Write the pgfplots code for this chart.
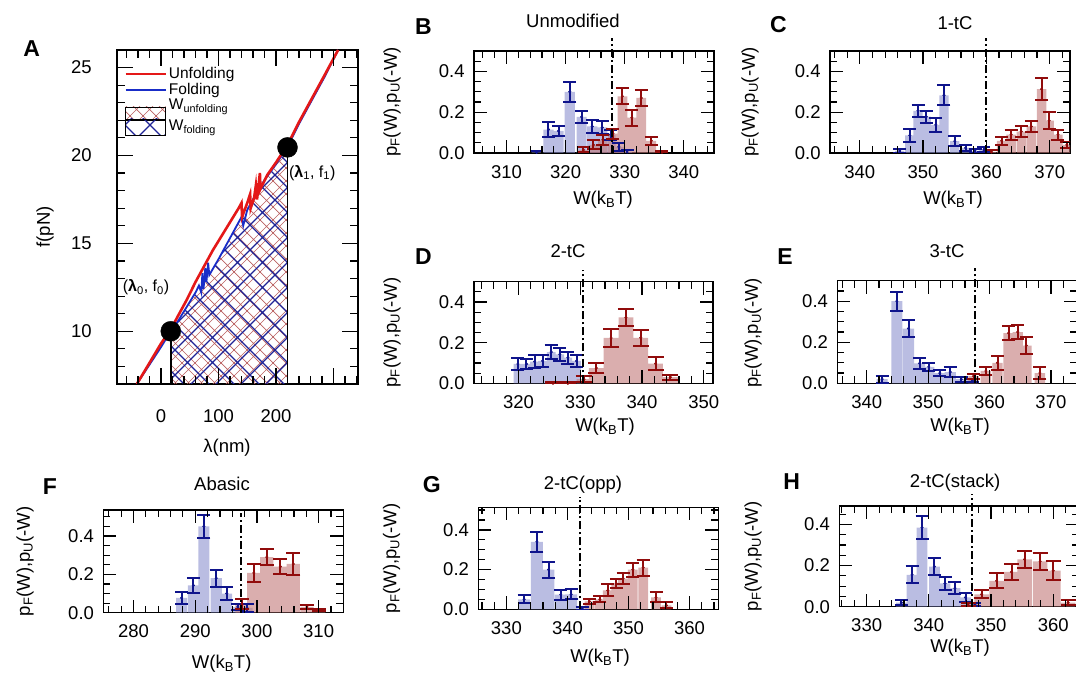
\documentclass[border=0pt]{standalone}
\usepackage{fontspec}
\setmainfont{Liberation Sans}
\usepackage{pgfplots}
\usepackage{pgfplotstable}
\pgfplotsset{compat=1.18}
\usetikzlibrary{patterns}

% diagonal cross-hatches for the work areas
\pgfdeclarepatternformonly{finecross}{\pgfqpoint{-1pt}{-1pt}}{\pgfqpoint{14pt}{14pt}}{\pgfqpoint{13pt}{13pt}}{%
  \pgfsetlinewidth{0.7pt}%
  \pgfpathmoveto{\pgfqpoint{-0.5pt}{-0.5pt}}\pgfpathlineto{\pgfqpoint{13.5pt}{13.5pt}}%
  \pgfpathmoveto{\pgfqpoint{-0.5pt}{13.5pt}}\pgfpathlineto{\pgfqpoint{13.5pt}{-0.5pt}}%
  \pgfusepath{stroke}}
\pgfdeclarepatternformonly{coarsecross}{\pgfqpoint{-1pt}{-1pt}}{\pgfqpoint{26pt}{26pt}}{\pgfqpoint{25pt}{25pt}}{%
  \pgfsetlinewidth{1.1pt}%
  \pgfpathmoveto{\pgfqpoint{-0.5pt}{-0.5pt}}\pgfpathlineto{\pgfqpoint{25.5pt}{25.5pt}}%
  \pgfpathmoveto{\pgfqpoint{-0.5pt}{25.5pt}}\pgfpathlineto{\pgfqpoint{25.5pt}{-0.5pt}}%
  \pgfusepath{stroke}}

\definecolor{unfred}{RGB}{228,24,24}
\definecolor{foldblue}{RGB}{25,45,200}
\definecolor{hatchred}{RGB}{185,95,95}
\definecolor{hatchblue}{RGB}{30,35,150}
\definecolor{errblue}{RGB}{15,20,140}
\definecolor{errred}{RGB}{145,12,12}
\definecolor{fillblue}{RGB}{140,145,207}
\definecolor{fillred}{RGB}{193,120,120}

\pgfplotsset{
  hist/.style={
    anchor=south west, scale only axis, width=240pt, height=102pt,
    ymin=0, ymax=0.5,
    axis line style={line width=1.4pt},
    tick style={black, line width=1.2pt},
    major tick length=13pt, minor tick length=7pt,
    xtick distance=10, minor x tick num=4,
    ytick={0,0.2,0.4}, minor y tick num=3,
    /pgf/number format/assume math mode=true,
    yticklabel style={xshift=-3pt, /pgf/number format/fixed,
      /pgf/number format/fixed zerofill, /pgf/number format/precision=1},
    xticklabel style={yshift=-6pt},
    clip mode=individual,
  },
  fbar/.style={ybar, bar shift=0pt, bar width=#1, draw=none, fill=fillblue, fill opacity=0.6},
  rbar/.style={ybar, bar shift=0pt, bar width=#1, draw=none, fill=fillred, fill opacity=0.6},
  ferr/.style={errblue, only marks, mark=*, mark size=1.3pt,
    error bars/.cd, y dir=both, y explicit,
    error bar style={line width=2pt, errblue},
    error mark options={rotate=90, line width=2pt, mark size=#1, errblue}},
  rerr/.style={errred, only marks, mark=*, mark size=1.3pt,
    error bars/.cd, y dir=both, y explicit,
    error bar style={line width=2pt, errred},
    error mark options={rotate=90, line width=2pt, mark size=#1, errred}},
  ferr/.default=6.5pt, rerr/.default=6.5pt,
}
\tikzset{wline/.style={black, line width=2pt, dash pattern=on 8pt off 3pt on 2pt off 3pt},
  tk/.style={black, line width=1.2pt}}
\newcommand{\plab}{p\textsubscript{F}(W),p\textsubscript{U}(-W)}
\newcommand{\wlab}{W(k\textsubscript{B}T)}

% inward ticks on all four sides of a histogram frame:
% #1 xmin, #2 xmax, #3 ymax, #4 minor x, #5 major x, #6 minor y
\newcommand{\hticks}[6]{%
  \pgfplotsinvokeforeach{#4}{\draw[tk] (axis cs:##1,0) -- ([yshift=7pt]axis cs:##1,0);
    \draw[tk] (axis cs:##1,#3) -- ([yshift=-7pt]axis cs:##1,#3);}%
  \pgfplotsinvokeforeach{#5}{\draw[tk] (axis cs:##1,0) -- ([yshift=13pt]axis cs:##1,0);
    \draw[tk] (axis cs:##1,#3) -- ([yshift=-13pt]axis cs:##1,#3);}%
  \pgfplotsinvokeforeach{#6}{\draw[tk] (axis cs:#1,##1) -- ([xshift=7pt]axis cs:#1,##1);
    \draw[tk] (axis cs:#2,##1) -- ([xshift=-7pt]axis cs:#2,##1);}%
  \pgfplotsinvokeforeach{0.2,0.4}{\draw[tk] (axis cs:#1,##1) -- ([xshift=13pt]axis cs:#1,##1);
    \draw[tk] (axis cs:#2,##1) -- ([xshift=-13pt]axis cs:#2,##1);}%
}

% work histograms: bin centre, probability, error
\pgfplotstableread{
x y e
315.1 0.003 0.006
317.1 0.115 0.035
318.8 0.108 0.025
320.7 0.300 0.050
322.7 0.177 0.030
324.5 0.130 0.032
326.2 0.125 0.030
327.6 0.090 0.025
329.0 0.030 0.020
330.4 0.005 0.008
}\Bf
\pgfplotstableread{
x y e
323.0 0.015 0.012
324.7 0.040 0.022
326.3 0.065 0.025
328.0 0.095 0.025
329.6 0.278 0.040
331.2 0.173 0.040
332.8 0.270 0.040
334.5 0.060 0.020
336.3 0.003 0.005
}\Bu
\pgfplotstableread{
x y e
346.3 0.010 0.010
347.9 0.086 0.030
349.2 0.207 0.030
350.5 0.178 0.030
352.0 0.138 0.035
353.3 0.283 0.050
355.0 0.058 0.026
356.7 0.025 0.015
358.2 0.010 0.010
359.6 0.015 0.012
}\Cf
\pgfplotstableread{
x y e
360.8 0.005 0.008
362.4 0.060 0.020
363.9 0.090 0.025
365.5 0.105 0.025
367.1 0.130 0.025
368.7 0.313 0.053
369.9 0.159 0.040
371.3 0.090 0.025
372.7 0.040 0.016
}\Cu
\pgfplotstableread{
x y e
319.9 0.095 0.030
321.3 0.095 0.025
322.6 0.107 0.030
323.9 0.110 0.030
325.3 0.154 0.035
326.7 0.142 0.030
328.0 0.126 0.030
329.4 0.110 0.030
}\Df
\pgfplotstableread{
x y e
325.6 0.000 0.004
328.0 0.000 0.004
330.6 0.020 0.015
332.6 0.075 0.025
335.0 0.223 0.045
337.4 0.324 0.040
339.8 0.224 0.040
342.2 0.097 0.030
344.6 0.030 0.013
}\Du
\pgfplotstableread{
x y e
342.5 0.020 0.018
344.9 0.400 0.047
346.8 0.267 0.040
348.6 0.097 0.025
350.1 0.080 0.020
351.9 0.050 0.015
353.6 0.055 0.024
355.4 0.020 0.012
357.2 0.015 0.008
}\Ef
\pgfplotstableread{
x y e
357.4 0.035 0.012
359.4 0.060 0.020
361.3 0.100 0.033
363.1 0.245 0.035
364.6 0.250 0.035
366.0 0.184 0.040
368.2 0.050 0.027
}\Eu
\pgfplotstableread{
x y e
287.8 0.077 0.033
289.7 0.142 0.040
291.4 0.450 0.060
293.4 0.180 0.045
295.1 0.100 0.035
296.9 0.030 0.017
298.4 0.025 0.022
}\Ff
\pgfplotstableread{
x y e
297.6 0.045 0.025
299.5 0.207 0.045
301.6 0.290 0.040
303.8 0.240 0.040
305.9 0.254 0.055
308.1 0.030 0.010
310.0 0.012 0.005
}\Fu
\pgfplotstableread{
x y e
332.9 0.050 0.020
335.0 0.340 0.050
336.9 0.200 0.040
338.9 0.074 0.025
340.6 0.075 0.025
342.4 0.005 0.006
}\Gf
\pgfplotstableread{
x y e
343.6 0.040 0.013
345.3 0.050 0.015
346.6 0.095 0.030
348.0 0.130 0.025
349.1 0.155 0.030
350.7 0.200 0.035
352.4 0.210 0.040
354.5 0.060 0.025
356.2 0.020 0.015
}\Gu
\pgfplotstableread{
x y e
335.6 0.020 0.012
337.3 0.155 0.042
338.9 0.385 0.055
340.9 0.195 0.043
342.6 0.113 0.032
344.2 0.090 0.030
345.9 0.045 0.022
347.4 0.010 0.008
}\Hf
\pgfplotstableread{
x y e
346.3 0.010 0.008
348.5 0.060 0.020
350.9 0.126 0.036
353.3 0.169 0.040
355.4 0.230 0.043
357.9 0.221 0.042
360.0 0.175 0.045
362.4 0.020 0.012
}\Hu

\begin{document}
\fontsize{18.5}{21}\selectfont
\begin{tikzpicture}
\useasboundingbox (0pt,0pt) rectangle (1076pt,675pt);

% ---------------- B: Unmodified ----------------
\begin{axis}[hist, at={(474pt,522pt)}, xmin=304.5, xmax=345.1]
\addplot[fbar=1.7] table[x=x,y=y]{\Bf};
\addplot[rbar=1.65] table[x=x,y=y]{\Bu};
\addplot[ferr] table[x=x,y=y,y error=e]{\Bf};
\addplot[rerr] table[x=x,y=y,y error=e]{\Bu};
\draw[wline] (axis cs:327.9,0) -- (axis cs:327.9,0.565);
\hticks{304.5}{345.1}{0.5}{306,308,312,314,316,318,322,324,326,328,332,334,336,338,342,344}{310,320,330,340}{0.05,0.1,0.15,0.25,0.3,0.35,0.45}
\end{axis}

% ---------------- C: 1-tC ----------------
\begin{axis}[hist, at={(830pt,522pt)}, xmin=335.3, xmax=373.2]
\addplot[fbar=1.45] table[x=x,y=y]{\Cf};
\addplot[rbar=1.5] table[x=x,y=y]{\Cu};
\addplot[ferr] table[x=x,y=y,y error=e]{\Cf};
\addplot[rerr] table[x=x,y=y,y error=e]{\Cu};
\draw[wline] (axis cs:360.0,0) -- (axis cs:360.0,0.565);
\hticks{335.3}{373.2}{0.5}{336,338,342,344,346,348,352,354,356,358,362,364,366,368,372}{340,350,360,370}{0.05,0.1,0.15,0.25,0.3,0.35,0.45}
\end{axis}

% ---------------- D: 2-tC ----------------
\begin{axis}[hist, at={(474pt,291.7pt)}, width=239pt, height=101.6pt,
  xmin=312.8, xmax=351.5]
\addplot[fbar=1.4] table[x=x,y=y]{\Df};
\addplot[rbar=2.4] table[x=x,y=y]{\Du};
\addplot[ferr] table[x=x,y=y,y error=e]{\Df};
\addplot[rerr=8pt] table[x=x,y=y,y error=e]{\Du};
\draw[wline] (axis cs:330.4,0) -- (axis cs:330.4,0.56);
\hticks{312.8}{351.5}{0.5}{314,316,318,322,324,326,328,332,334,336,338,342,344,346,348}{320,330,340,350}{0.05,0.1,0.15,0.25,0.3,0.35,0.45}
\end{axis}

% ---------------- E: 3-tC ----------------
\begin{axis}[hist, at={(837.3pt,291.7pt)}, height=102.6pt,
  xmin=335.2, xmax=374.3]
\addplot[fbar=1.8] table[x=x,y=y]{\Ef};
\addplot[rbar=1.7] table[x=x,y=y]{\Eu};
\addplot[ferr] table[x=x,y=y,y error=e]{\Ef};
\addplot[rerr] table[x=x,y=y,y error=e]{\Eu};
\draw[wline] (axis cs:357.7,0) -- (axis cs:357.7,0.56);
\hticks{335.2}{374.3}{0.5}{336,338,342,344,346,348,352,354,356,358,362,364,366,368,372}{340,350,360,370}{0.05,0.1,0.15,0.25,0.3,0.35,0.45}
\end{axis}

% ---------------- F: Abasic ----------------
\begin{axis}[hist, at={(103.3pt,62.3pt)}, height=102.7pt,
  xmin=275.1, xmax=314.0, ymax=0.535]
\addplot[fbar=1.8] table[x=x,y=y]{\Ff};
\addplot[rbar=2.15] table[x=x,y=y]{\Fu};
\addplot[ferr] table[x=x,y=y,y error=e]{\Ff};
\addplot[rerr=7pt] table[x=x,y=y,y error=e]{\Fu};
\draw[wline] (axis cs:297.4,0) -- (axis cs:297.4,0.52);
\hticks{275.1}{314.0}{0.535}{276,278,282,284,286,288,292,294,296,298,302,304,306,308,312}{280,290,300,310}{0.05,0.1,0.15,0.25,0.3,0.35,0.45,0.5}
\end{axis}

% ---------------- G: 2-tC(opp) ----------------
\begin{axis}[hist, at={(478.3pt,65.7pt)}, xmin=325.4, xmax=364.7, ymax=0.514]
\addplot[fbar=1.95] table[x=x,y=y]{\Gf};
\addplot[rbar=1.6] table[x=x,y=y]{\Gu};
\addplot[ferr] table[x=x,y=y,y error=e]{\Gf};
\addplot[rerr] table[x=x,y=y,y error=e]{\Gu};
\draw[wline] (axis cs:342.1,0) -- (axis cs:342.1,0.567);
\hticks{325.4}{364.7}{0.514}{326,328,332,334,336,338,342,344,346,348,352,354,356,358,362,364}{330,340,350,360}{0.05,0.1,0.15,0.25,0.3,0.35,0.45,0.5}
\end{axis}

% ---------------- H: 2-tC(stack) ----------------
\begin{axis}[hist, at={(839.3pt,68.3pt)}, height=100.7pt,
  xmin=325.6, xmax=364.2, ymax=0.49]
\addplot[fbar=1.75] table[x=x,y=y]{\Hf};
\addplot[rbar=2.35] table[x=x,y=y]{\Hu};
\addplot[ferr] table[x=x,y=y,y error=e]{\Hf};
\addplot[rerr=7.5pt] table[x=x,y=y,y error=e]{\Hu};
\draw[wline] (axis cs:346.9,0) -- (axis cs:346.9,0.55);
\hticks{325.6}{364.2}{0.49}{326,328,332,334,336,338,342,344,346,348,352,354,356,358,362,364}{330,340,350,360}{0.05,0.1,0.15,0.25,0.3,0.35,0.45}
\end{axis}

% ---------------- A: force-extension cycle ----------------
\begin{axis}[at={(117pt,291pt)}, anchor=south west, scale only axis,
  width=241pt, height=334pt,
  xmin=-76.5, xmax=342.6, ymin=7, ymax=26,
  xtick={0,100,200,300}, xticklabels={0,100,200,{}}, minor x tick num=4,
  ytick={10,15,20,25}, minor y tick num=4,
  axis line style={line width=1.4pt},
  tick style={black, line width=1.2pt},
  major tick length=16pt, minor tick length=8pt,
  /pgf/number format/assume math mode=true,
  xticklabel style={yshift=-19pt}, yticklabel style={xshift=-19pt},
  legend style={at={(0.03,0.955)}, anchor=north west, draw=none, fill=none,
    font=\fontsize{15.5}{17}\selectfont, row sep=-2pt, inner sep=0pt},
  legend cell align=left,
]
\addplot[forget plot, draw=none, pattern=finecross, pattern color=hatchred] coordinates {
  (17,7) (17,10.0) (45,11.4) (60,12.2) (70,12.3) (84,13.2) (100,14.1) (120,15.3)
  (140,16.5) (165,17.8) (180,18.6) (200,19.5) (220,20.46) (220,7)};
\addplot[forget plot, draw=none, pattern=coarsecross, pattern color=hatchblue] coordinates {
  (17,7) (17,10.0) (45,11.4) (60,12.2) (70,12.3) (84,13.2) (100,14.1) (120,15.3)
  (140,16.5) (165,17.8) (180,18.6) (200,19.5) (220,20.46) (220,7)};
\addplot[forget plot, black, line width=1.5pt] coordinates {(17,7) (17,10.0)};
\addplot[forget plot, black, line width=1.5pt] coordinates {(220,7) (220,20.46)};
% folding trace
\addplot[forget plot, foldblue, line width=1.8pt] coordinates {
  (-42,7.0) (-20,8.1) (0,9.1) (17,10.0) (30,10.6) (45,11.4) (60,12.2) (66,12.6)
  (70,12.2) (72,13.3) (74,12.4) (77,13.6) (79,12.8) (82,13.9) (84,13.2) (100,14.1)
  (120,15.3) (140,16.5) (143,16.0) (150,16.9) (165,17.8) (180,18.6) (200,19.5)
  (220,20.5) (240,21.8) (260,23.0) (285,24.5) (308,26.0)};
% unfolding trace
\addplot[forget plot, unfred, line width=2.6pt] coordinates {
  (-42,7.0) (-20,8.2) (0,9.3) (17,10.1) (30,10.9) (45,11.8) (60,12.8) (75,13.7)
  (90,14.6) (105,15.4) (120,16.2) (135,17.0) (140,17.3) (141,16.5) (150,17.3)
  (155,17.8) (156,17.0) (162,17.6) (165,18.3) (167,17.5) (172,19.0) (173,18.1)
  (185,18.9) (200,19.6) (220,20.6) (240,21.9) (260,23.1) (285,24.6) (308,26.0)};
\addplot[forget plot, only marks, mark=*, mark size=10pt, black] coordinates {(17,10.0) (220,20.46)};
\node[font=\fontsize{16}{18}\selectfont] at (axis cs:-26,12.5) {({\bfseries λ}\textsubscript{0}, f\textsubscript{0})};
\node[font=\fontsize{16}{18}\selectfont] at (axis cs:263,19.0) {({\bfseries λ}\textsubscript{1}, f\textsubscript{1})};
% inward frame ticks
\pgfplotsinvokeforeach{-60,-40,-20,20,40,60,80,120,140,160,180,220,240,260,280,320,340}{
  \draw[tk] (axis cs:#1,7) -- ([yshift=8pt]axis cs:#1,7);
  \draw[tk] (axis cs:#1,26) -- ([yshift=-8pt]axis cs:#1,26);}
\pgfplotsinvokeforeach{0,100,200,300}{
  \draw[tk] (axis cs:#1,7) -- ([yshift=16pt]axis cs:#1,7);
  \draw[tk] (axis cs:#1,26) -- ([yshift=-16pt]axis cs:#1,26);}
\pgfplotsinvokeforeach{8,9,11,12,13,14,16,17,18,19,21,22,23,24}{
  \draw[tk] (axis cs:-76.5,#1) -- ([xshift=8pt]axis cs:-76.5,#1);
  \draw[tk] (axis cs:342.6,#1) -- ([xshift=-8pt]axis cs:342.6,#1);}
\pgfplotsinvokeforeach{10,15,20,25}{
  \draw[tk] (axis cs:-76.5,#1) -- ([xshift=16pt]axis cs:-76.5,#1);
  \draw[tk] (axis cs:342.6,#1) -- ([xshift=-16pt]axis cs:342.6,#1);}
\addlegendimage{legend image code/.code={\draw[unfred, line width=2.5pt] (0pt,0pt) -- (40pt,0pt);}}
\addlegendentry{Unfolding}
\addlegendimage{legend image code/.code={\draw[foldblue, line width=2.5pt] (0pt,0pt) -- (40pt,0pt);}}
\addlegendentry{Folding}
\addlegendimage{legend image code/.code={\fill[pattern=finecross, pattern color=hatchred] (0pt,-14pt) rectangle (40pt,-1pt);}}
\addlegendentry{W\textsubscript{unfolding}}
\addlegendimage{legend image code/.code={\fill[pattern=coarsecross, pattern color=hatchblue] (0pt,-8pt) rectangle (40pt,8pt);}}
\addlegendentry{W\textsubscript{folding}}
\end{axis}

% axis labels
\node at (227pt,227pt) {λ(nm)};
\node[rotate=90] at (45pt,448pt) {f(pN)};
\node[rotate=90] at (392pt,573pt) {\plab};
\node[rotate=90] at (750pt,573pt) {\plab};
\node[rotate=90] at (392pt,342.5pt) {\plab};
\node[rotate=90] at (753pt,342pt) {\plab};
\node[rotate=90] at (25pt,113.6pt) {\plab};
\node[rotate=90] at (391.7pt,116.7pt) {\plab};
\node[rotate=90] at (753pt,118.6pt) {\plab};
\node at (603pt,475pt) {\wlab};
\node at (953pt,475pt) {\wlab};
\node at (605pt,248.3pt) {\wlab};
\node at (960pt,248.3pt) {\wlab};
\node at (221.7pt,11pt) {\wlab};
\node at (600pt,17pt) {\wlab};
\node at (960pt,27pt) {\wlab};

% panel titles
\node at (573pt,654pt) {Unmodified};
\node at (955pt,652pt) {1-tC};
\node at (568pt,424pt) {2-tC};
\node at (947pt,424pt) {3-tC};
\node at (222pt,191pt) {Abasic};
\node at (583pt,190pt) {2-tC(opp)};
\node at (955pt,192pt) {2-tC(stack)};

% panel letters
\begin{scope}[every node/.style={font=\fontsize{23}{25}\selectfont\bfseries}]
\node at (31.7pt,626.7pt) {A};
\node at (423.3pt,648.3pt) {B};
\node at (778.3pt,650pt) {C};
\node at (423.3pt,418.3pt) {D};
\node at (785pt,418.3pt) {E};
\node at (50pt,188.3pt) {F};
\node at (431.7pt,190pt) {G};
\node at (791.7pt,193.3pt) {H};
\end{scope}
\end{tikzpicture}
\end{document}
